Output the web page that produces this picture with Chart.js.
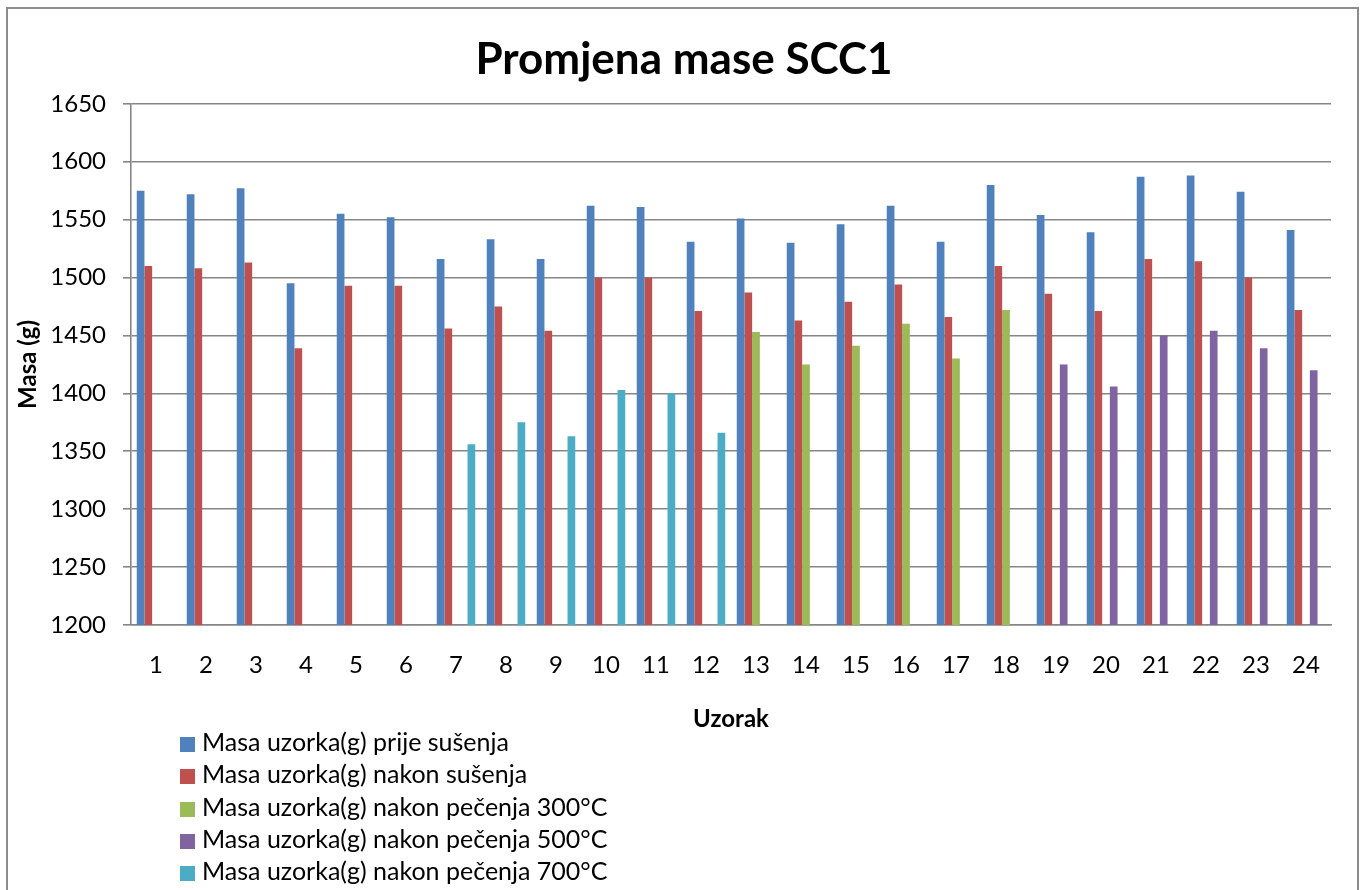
<!DOCTYPE html>
<html>
<head>
<meta charset="utf-8">
<script src="https://cdn.jsdelivr.net/npm/chart.js@4"></script>
<style>
  html, body { margin: 0; padding: 0; background: #fff; overflow: hidden; }
  #frame {
    position: absolute; left: 6px; top: 7px; width: 1353px; height: 900px;
    border: 2px solid #8c8c8c; box-sizing: border-box;
  }
  #legend {
    position: absolute; left: 180px; top: 725px;
    font-family: Lato, sans-serif; font-size: 25px; color: #000;
  }
  #legend .row { height: 32.3px; line-height: 32.3px; white-space: nowrap; }
  #legend .box { display: inline-block; width: 15px; height: 15px; margin-right: 7px; vertical-align: -1px; }
</style>
</head>
<body>
<div id="frame"></div>
<canvas id="massChart" width="1368" height="890"></canvas>
<div id="legend"></div>
<script>
// Categories and series
const sampleLabels = ['1', '2', '3', '4', '5', '6', '7', '8', '9', '10', '11', '12',
    '13', '14', '15', '16', '17', '18', '19', '20', '21', '22', '23', '24'];

const beforeDrying = [1575, 1572, 1577, 1495, 1555, 1552, 1516, 1533, 1516, 1562, 1561, 1531,
    1551, 1530, 1546, 1562, 1531, 1580, 1554, 1539, 1587, 1588, 1574, 1541];
const afterDrying = [1510, 1508, 1513, 1439, 1493, 1493, 1456, 1475, 1454, 1500, 1500, 1471,
    1487, 1463, 1479, 1494, 1466, 1510, 1486, 1471, 1516, 1514, 1500, 1472];
const after300 = [null, null, null, null, null, null, null, null, null, null, null, null,
    1453, 1425, 1441, 1460, 1430, 1472, null, null, null, null, null, null];
const after500 = [null, null, null, null, null, null, null, null, null, null, null, null,
    null, null, null, null, null, null, 1425, 1406, 1450, 1454, 1439, 1420];
const after700 = [null, null, null, null, null, null, 1356, 1375, 1363, 1403, 1400, 1366,
    null, null, null, null, null, null, null, null, null, null, null, null];

const seriesNames = [
    'Masa uzorka(g) prije sušenja',
    'Masa uzorka(g) nakon sušenja',
    'Masa uzorka(g) nakon pečenja 300°C',
    'Masa uzorka(g) nakon pečenja 500°C',
    'Masa uzorka(g) nakon pečenja 700°C'
];
const seriesColors = ['#4f81bd', '#c0504d', '#9bbb59', '#8064a2', '#4bacc6'];

const yTicks = { min: 1200, max: 1650, step: 50 };

const gridColor = '#868686';
const fontFamily = 'Lato, sans-serif';

const seriesData = [beforeDrying, afterDrying, after300, after500, after700];

// center the title on the whole canvas rather than the padded area
const centerTitle = {
    id: 'centerTitle',
    afterLayout(chart) {
        if (chart.titleBlock) {
            chart.titleBlock.left = 0;
            chart.titleBlock.right = chart.width;
        }
    }
};

const ctx = document.getElementById('massChart').getContext('2d');
const chart = new Chart(ctx, {
    type: 'bar',
    data: {
        labels: sampleLabels,
        datasets: seriesData.map((d, i) => ({
            label: seriesNames[i],
            data: d,
            backgroundColor: seriesColors[i],
            borderWidth: 0,
            categoryPercentage: 0.77,
            barPercentage: 1
        }))
    },
    plugins: [centerTitle],
    options: {
        responsive: false,
        animation: false,
        layout: { padding: { left: 14, right: 37, top: 33, bottom: 156 } },
        plugins: {
            legend: { display: false },
            tooltip: { enabled: false },
            title: {
                display: true,
                text: 'Promjena mase SCC1',
                color: '#000',
                font: { family: fontFamily, size: 44, weight: 'bold' },
                padding: { top: 0, bottom: 18 }
            }
        },
        scales: {
            x: {
                afterFit: scale => { scale.height = 109; },
                grid: { display: false },
                border: { color: gridColor, width: 1.6 },
                ticks: { color: '#000', font: { family: fontFamily, size: 24 }, padding: 18 },
                title: {
                    display: true, text: 'Uzorak', color: '#000',
                    font: { family: fontFamily, size: 24, weight: 'bold' },
                    padding: { top: 4, bottom: 0 }
                }
            },
            y: {
                afterFit: scale => { scale.width = 117; },
                min: yTicks.min,
                max: yTicks.max,
                ticks: {
                    stepSize: yTicks.step, color: '#000',
                    font: { family: fontFamily, size: 24 }, padding: 17,
                    callback: v => String(v)
                },
                grid: { color: gridColor, lineWidth: 1.6, tickLength: 8 },
                border: { color: gridColor, width: 1.6 },
                title: {
                    display: true, text: 'Masa (g)', color: '#000',
                    font: { family: fontFamily, size: 24, weight: 'bold' },
                    padding: { top: 0, bottom: 0 }
                }
            }
        }
    }
});

// Vertical legend built from the datasets
const legendEl = document.getElementById('legend');
chart.data.datasets.forEach(ds => {
    const row = document.createElement('div');
    row.className = 'row';
    const box = document.createElement('span');
    box.className = 'box';
    box.style.background = ds.backgroundColor;
    row.appendChild(box);
    row.appendChild(document.createTextNode(ds.label));
    legendEl.appendChild(row);
});
</script>
</body>
</html>
